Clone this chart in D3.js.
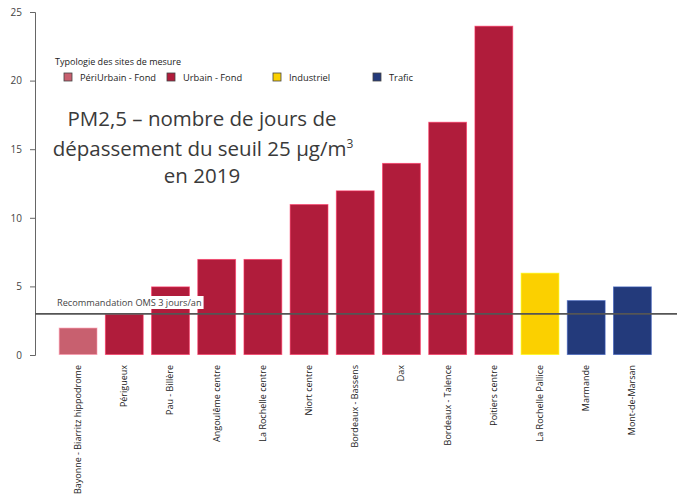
<!DOCTYPE html>
<html><head><meta charset="utf-8">
<script src="https://cdn.jsdelivr.net/npm/d3@7"></script>
<style>body{margin:0;background:#fff;} svg{display:block;font-family:"Open Sans",sans-serif;}</style>
</head><body>
<svg id="c" width="685" height="495"></svg>
<script>
const categories = ["Bayonne - Biarritz hippodrome","Périgueux","Pau - Billère","Angoulême centre","La Rochelle centre","Niort centre","Bordeaux - Bassens","Dax","Bordeaux - Talence","Poitiers centre","La Rochelle Pallice","Marmande","Mont-de-Marsan"];
const values = [2,3,5,7,7,11,12,14,17,24,6,4,5];
const types = ["PériUrbain - Fond","Urbain - Fond","Urbain - Fond","Urbain - Fond","Urbain - Fond","Urbain - Fond","Urbain - Fond","Urbain - Fond","Urbain - Fond","Urbain - Fond","Industriel","Trafic","Trafic"];
const typeNames = ["PériUrbain - Fond","Urbain - Fond","Industriel","Trafic"];
const typeColors = ["#c8606f","#b01c3b","#fbd000","#233a7b"];
const yTicks = [0,5,10,15,20,25];
const threshold = 3;
const thresholdLabel = "Recommandation OMS 3 jours/an";
const titleLines = ["PM2,5 – nombre de jours de","dépassement du seuil 25 µg/m","en 2019"];

const svg = d3.select("#c");
const x = d3.scaleBand().domain(categories).range([55, 655.5]).paddingInner(0.16).paddingOuter(0.08);
const y = d3.scaleLinear().domain([0,25]).range([355, 12]);
const color = d3.scaleOrdinal().domain(typeNames).range(typeColors);

// y axis
const ya = svg.append("g").attr("transform","translate(35,0)")
  .call(d3.axisLeft(y).tickValues(yTicks).tickSize(5).tickPadding(8));
ya.select(".domain").attr("stroke","#666");
ya.selectAll(".tick line").attr("stroke","#666");
ya.selectAll("text").attr("fill","#444").attr("font-size","10px").attr("font-family","Open Sans");

// bars
svg.append("g").selectAll("rect").data(categories).join("rect")
  .attr("x", d=>x(d)+0.5).attr("width", x.bandwidth()-1)
  .attr("y", (d,i)=>y(values[i])+0.5).attr("height",(d,i)=>y(0)-y(values[i])-1)
  .attr("fill",(d,i)=>color(types[i]))
  .attr("stroke",(d,i)=>d3.color(color(types[i])).brighter(1.2))
  .attr("stroke-opacity",0.6).attr("stroke-width",1);

// x labels
svg.append("g").selectAll("text").data(categories).join("text")
  .attr("transform", d=>`translate(${x(d)+x.bandwidth()/2+3},365) rotate(-90)`)
  .attr("text-anchor","end").attr("font-size","9px").attr("fill","#222").text(d=>d);

// threshold line
svg.append("line").attr("x1",35).attr("x2",677).attr("y1",y(threshold)).attr("y2",y(threshold))
  .attr("stroke","#555").attr("stroke-width",1.6);
const lbl = svg.append("g");
const lt = lbl.append("text").attr("x",57).attr("y",306).attr("font-size","9.2px").attr("fill","#444").text(thresholdLabel);
const bb = lt.node().getBBox();
lbl.insert("rect","text").attr("x",bb.x-2).attr("y",bb.y).attr("width",bb.width+4).attr("height",bb.height).attr("fill","#fff");

// legend
svg.append("text").attr("x",55).attr("y",65).attr("font-size","9px").attr("fill","#222").text("Typologie des sites de mesure");
const legX = [64,167,273,373];
const lg = svg.append("g").selectAll("g").data(typeNames).join("g")
  .attr("transform",(d,i)=>`translate(${legX[i]},73)`);
lg.append("rect").attr("width",8).attr("height",8).attr("fill",d=>color(d)).attr("stroke","#444").attr("stroke-width",0.8);
lg.append("text").attr("x",16).attr("y",7.5).attr("font-size","9.3px").attr("fill","#222").text(d=>d);

// title
const tg = svg.append("g").attr("fill","#3a3a3a").attr("font-size","20.5px").attr("text-anchor","middle");
tg.append("text").attr("x",202).attr("y",126).text(titleLines[0]);
const t2 = tg.append("text").attr("x",203).attr("y",156);
t2.append("tspan").text(titleLines[1]);
t2.append("tspan").attr("font-size","12px").attr("dy","-8").text("3");
tg.append("text").attr("x",202).attr("y",183).text(titleLines[2]);
</script>
</body></html>
